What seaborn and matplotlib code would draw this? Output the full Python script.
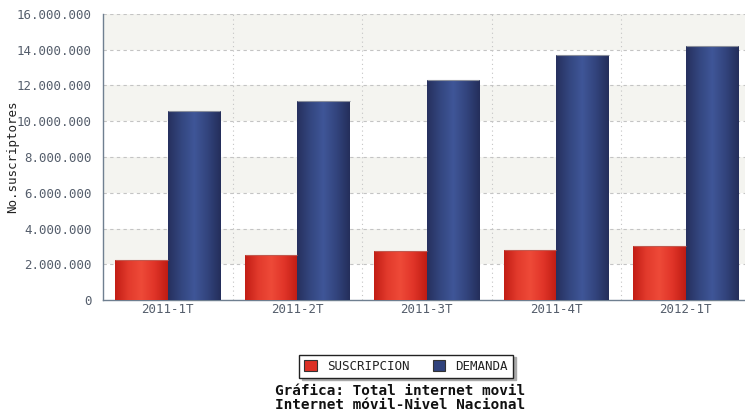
import numpy as np
import pandas as pd
import matplotlib
matplotlib.use("Agg")
import matplotlib.pyplot as plt
from matplotlib.colors import LinearSegmentedColormap
from matplotlib.ticker import FuncFormatter, MultipleLocator, FixedLocator
from matplotlib.patches import Patch
import seaborn as sns

# Quarterly mobile internet subscribers (national level)
periods = ["2011-1T", "2011-2T", "2011-3T", "2011-4T", "2012-1T"]
suscripcion = [2260000, 2510000, 2740000, 2790000, 3020000]
demanda = [10580000, 11120000, 12300000, 13700000, 14200000]
series_names = ["SUSCRIPCION", "DEMANDA"]
y_ticks = [0, 2000000, 4000000, 6000000, 8000000, 10000000, 12000000, 14000000, 16000000]

df = pd.DataFrame({
    "periodo": periods * 2,
    "serie": [series_names[0]] * len(periods) + [series_names[1]] * len(periods),
    "valor": suscripcion + demanda,
})

sns.set_theme(style="white")
plt.rcParams["font.family"] = ["DejaVu Sans Mono", "DejaVu Sans"]

red = "#dc3025"
blue = "#30427c"
axis_col = "#6f7f90"
text_col = "#555e6c"

fig = plt.figure(figsize=(7.45, 4.15), dpi=100)
ax = fig.add_axes([103 / 745, 115 / 415, 642 / 745, 286 / 415])

sns.barplot(data=df, x="periodo", y="valor", hue="serie", order=periods,
            hue_order=series_names, palette=[red, blue], width=0.81,
            saturation=1, edgecolor="none", linewidth=0, ax=ax, legend=False)

ymax = y_ticks[-1]
ax.set_ylim(0, ymax)
ax.set_xlim(-0.5, 4.457)

# Alternating horizontal bands between grid lines
for i in range(len(y_ticks) - 1):
    if i % 2 == 1:
        ax.axhspan(y_ticks[i], y_ticks[i + 1], color="#f4f4f0", zorder=0, lw=0)

# Cylinder-like shading on each bar
red_cmap = LinearSegmentedColormap.from_list("r", ["#c21d15", "#e23a2c", "#ee4a38", "#e03428", "#bf1c13"])
blue_cmap = LinearSegmentedColormap.from_list("b", ["#26305e", "#33467f", "#3f5698", "#32447d", "#242e5a"])
grad = np.linspace(0, 1, 256).reshape(1, -1)
n = len(periods)
for k, patch in enumerate(list(ax.patches)[: 2 * n]):
    cmap = red_cmap if k < n else blue_cmap
    x0, w, h = patch.get_x(), patch.get_width(), patch.get_height()
    im = ax.imshow(grad, cmap=cmap, aspect="auto", extent=[x0, x0 + w, 0, h],
                   zorder=3, interpolation="bicubic")
    im.set_clip_path(patch)
    ax.plot([x0, x0 + w], [h, h], color="#8a8f9c" if k >= n else "#c05a50",
            lw=0.8, zorder=4, solid_capstyle="butt")
ax.set_xlim(-0.5, 4.457)
ax.set_ylim(0, ymax)

# Grid lines
for yv in y_ticks[1:]:
    ax.axhline(yv, color="#c4c4c4", lw=0.8, ls=(0, (3, 3)), zorder=1)
for xv in np.arange(0.5, n - 0.5, 1.0):
    ax.axvline(xv, color="#c4c4c4", lw=0.8, ls=(0, (1, 3)), zorder=1)

# Axes styling
for side in ["top", "right"]:
    ax.spines[side].set_visible(False)
for side in ["left", "bottom"]:
    ax.spines[side].set_color(axis_col)
    ax.spines[side].set_linewidth(1.0)

ax.yaxis.set_major_locator(FixedLocator(y_ticks))
ax.yaxis.set_minor_locator(MultipleLocator(1000000))
ax.yaxis.set_major_formatter(FuncFormatter(lambda v, p: f"{int(v):,}".replace(",", ".")))
ax.tick_params(axis="y", which="both", direction="in", length=5, width=1,
               color=axis_col, labelcolor=text_col, labelsize=9, pad=8)

ax.set_xticks(range(n))
ax.set_xticklabels(periods)
ax.tick_params(axis="x", which="major", length=0, labelcolor=text_col, labelsize=9, pad=2)
ax.xaxis.set_minor_locator(FixedLocator(np.arange(0.5, n - 0.5, 1.0)))
ax.tick_params(axis="x", which="minor", direction="out", length=5, width=1, color=axis_col)

ax.set_xlabel("")
ax.set_ylabel("No.suscriptores", fontsize=9, color="#222222")
ax.yaxis.set_label_coords(-0.130, 0.5)

# Legend box with shadow
handles = [Patch(facecolor=red, edgecolor="#333333", lw=0.8),
           Patch(facecolor=blue, edgecolor="#333333", lw=0.8)]
leg = fig.legend(handles, series_names, loc="center", bbox_to_anchor=(406 / 745, 1 - 366 / 415),
                 ncol=2, frameon=True, fancybox=False, shadow={"color": "#aaaaaa", "alpha": 1},
                 edgecolor="#222222", fontsize=9, handlelength=1.0, handleheight=1.0,
                 handletextpad=0.8, columnspacing=1.9, borderpad=0.4, borderaxespad=0)
leg.get_frame().set_linewidth(1.0)
for t in leg.get_texts():
    t.set_color("#222222")

fig.text(400 / 745, 1 - 391 / 415, "Gráfica: Total internet movil", ha="center", va="center",
         fontsize=10.4, fontweight="bold", color="#111111")
fig.text(400 / 745, 1 - 405 / 415, "Internet móvil-Nivel Nacional", ha="center", va="center",
         fontsize=10.4, fontweight="bold", color="#111111")

fig.savefig("out.png", dpi=100)
